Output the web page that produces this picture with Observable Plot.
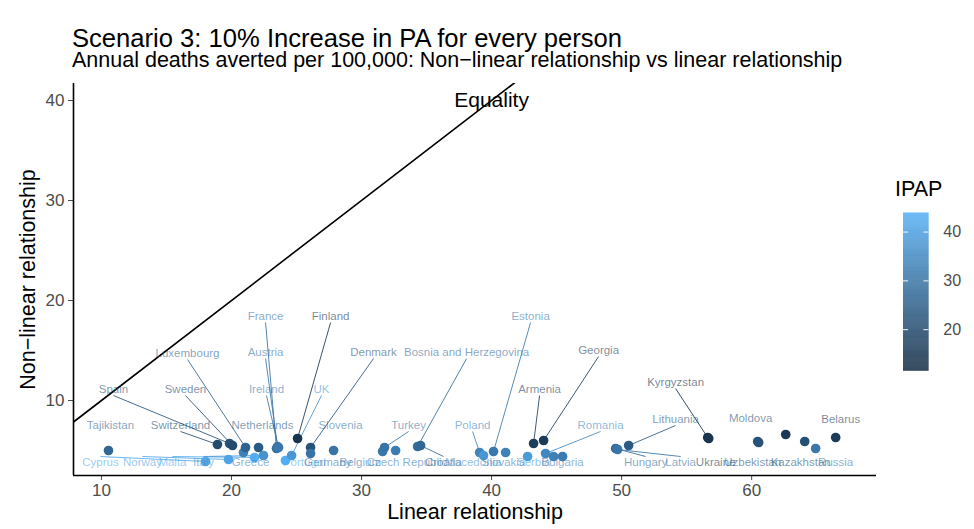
<!DOCTYPE html>
<html>
<head>
<meta charset="utf-8">
<script src="https://cdn.jsdelivr.net/npm/d3@7"></script>
<script src="https://cdn.jsdelivr.net/npm/@observablehq/plot@0.6"></script>
<style>
  html, body { margin: 0; padding: 0; background: white; }
  #wrap { position: relative; width: 974px; height: 529px; overflow: hidden; font-family: "Liberation Sans", Arial, Helvetica, sans-serif; }
  .title { position: absolute; left: 72px; top: 25px; font-size: 25.6px; line-height: 26px; white-space: nowrap; color: #000; z-index: 2; }
  .subtitle { position: absolute; left: 72px; top: 50px; font-size: 21.5px; line-height: 21.5px; white-space: nowrap; color: #000; z-index: 2; }
  .legtitle { position: absolute; left: 895px; top: 179px; font-size: 21.5px; line-height: 21.5px; color: #000; z-index: 2; }
  #main { position: absolute; left: 0; top: 75px; z-index: 0; }
  #legend { position: absolute; left: 903px; top: 205px; z-index: 1; }
</style>
</head>
<body>
<div id="wrap">
  <div id="main"></div>
  <div id="legend"></div>
  <div class="title">Scenario 3: 10% Increase in PA for every person</div>
  <div class="subtitle">Annual deaths averted per 100,000: Non−linear relationship vs linear relationship</div>
  <div class="legtitle">IPAP</div>
</div>
<script>
// ---- Data ----
const countries = ["Tajikistan","Cyprus","Norway","Malta","Italy","Greece","Switzerland","Spain","Sweden","Luxembourg",
  "Netherlands","France","Austria","Ireland","Portugal","UK","Finland","Denmark","Germany","Slovenia",
  "Belgium","Turkey","Czech Republic","Bosnia and Herzegovina","Croatia","Poland","Macedonia","Estonia","Slovakia","Serbia",
  "Armenia","Georgia","Romania","Bulgaria","Albania","Hungary","Latvia","Lithuania","Kyrgyzstan","Ukraine",
  "Moldova","Uzbekistan","Azerbaijan","Kazakhstan","Russia","Belarus"];
const linear = [10.54,18.0,19.77,21.77,22.46,20.92,18.92,19.85,20.08,21.08,
  22.08,23.46,23.54,23.62,24.15,24.62,25.08,26.08,26.08,27.85,
  31.62,31.77,32.62,34.31,34.54,39.08,39.38,40.15,41.08,42.77,
  43.23,44.0,44.15,44.77,45.46,49.54,49.69,50.54,56.62,56.70,
  60.46,60.54,62.62,64.08,64.92,66.46];
const nonlinear = [5.0,3.9,4.1,4.3,4.5,4.8,5.6,5.7,5.5,5.3,
  5.3,5.2,5.4,5.3,4.0,4.5,6.2,5.3,4.7,5.0,
  4.9,5.3,5.0,5.4,5.5,4.8,4.5,4.9,4.8,4.4,
  5.7,6.0,4.7,4.4,4.4,5.2,5.1,5.5,6.3,6.2,
  5.9,5.8,6.6,5.9,5.2,6.3];
const ipap = [27,42,41,43,37,33,20,22,20,26,
  24,29,30,31,43,38,14,22,30,30,
  31,30,32,28,27,34,38,31,33,39,
  17,16,35,33,32,28,30,24,13,14,
  22,22,15,21,31,16];
// label anchor positions in data units (null = no label)
const labelX = [10.69,9.92,13.15,15.46,17.85,21.46,16.08,10.92,16.46,16.62,
  22.38,22.62,22.62,22.69,25.6,26.92,27.62,30.92,27.4,28.38,
  29.9,33.62,33.5,38.08,36.3,38.54,38.6,43.0,40.92,43.23,
  43.69,48.23,48.38,45.46,null,51.85,54.54,54.15,54.15,57.23,
  59.92,60.08,null,63.77,66.46,66.85];
const labelY = [7.5,3.8,3.8,3.8,3.8,3.8,7.5,11.1,11.1,14.7,
  7.5,18.4,14.8,11.1,3.8,11.1,18.4,14.8,3.8,7.5,
  3.8,7.5,3.8,14.8,3.8,7.5,3.8,18.4,3.8,3.8,
  11.1,15.0,7.5,3.8,null,3.8,3.8,8.1,11.8,3.8,
  8.2,3.8,null,3.8,3.8,8.1];
const xTicks = [10,20,30,40,50,60];
const yTicks = [10,20,30,40];
const legendTicks = [20,30,40];
const xDomain = [7.85, 69.6];
const yDomain = [2.5, 41.7];
const ipapDomain = [11.5, 43.9];

// ---- Build table ----
const rows = countries.map((name, i) => ({
  name, x: linear[i], y: nonlinear[i], ipap: ipap[i], lx: labelX[i], ly: labelY[i]
}));
const labelled = rows.filter(d => d.lx != null);

const W = 974, H = 454, mt = 8, mb = 54, ml = 73, mr = 98;
const kx = (W - ml - mr) / (xDomain[1] - xDomain[0]);
const ky = (H - mt - mb) / (yDomain[1] - yDomain[0]);
const linked = labelled.filter(d => Math.hypot((d.lx - d.x) * kx, (d.ly - d.y) * ky) > 26);

const colorOpts = {type: "linear", domain: ipapDomain, range: ["#132B43", "#56B1F7"], interpolate: d3.interpolateLab};
const font = "'Liberation Sans', Arial, Helvetica, sans-serif";

const chart = Plot.plot({
  width: W, height: H,
  marginTop: mt, marginBottom: mb, marginLeft: ml, marginRight: mr,
  x: {domain: xDomain},
  y: {domain: yDomain},
  color: colorOpts,
  style: {fontFamily: font, color: "#4D4D4D", background: "white", overflow: "visible"},
  marks: [
    Plot.axisX(xTicks, {tickSize: 5, tickPadding: 3, fontSize: 17, label: null}),
    Plot.axisY(yTicks, {tickSize: 5, tickPadding: 4, fontSize: 17, label: null}),
    Plot.ruleX([xDomain[0]], {stroke: "black", strokeWidth: 1.6}),
    Plot.ruleY([yDomain[0]], {stroke: "black", strokeWidth: 1.6}),
    Plot.line(xDomain.map(v => [v, v]), {x: d => d[0], y: d => d[1], stroke: "black", strokeWidth: 1.6, clip: true}),
    Plot.link(linked, {
      x1: "x", y1: "y", x2: "lx",
      y2: d => d.ly + (d.ly < d.y ? 0.6 : -0.6),
      stroke: "ipap", strokeWidth: 1, strokeOpacity: 0.85
    }),
    Plot.dot(rows, {x: "x", y: "y", fill: "ipap", r: 4.8}),
    Plot.text(labelled, {x: "lx", y: "ly", text: "name", fill: "ipap", fillOpacity: 0.6, fontSize: 11.5}),
    Plot.text(["Equality"], {x: () => 40, y: () => 40, fill: "black", fontSize: 21}),
    Plot.text(["Linear relationship"], {frameAnchor: "bottom", textAnchor: "middle", dy: 43, fill: "black", fontSize: 21.5}),
    Plot.text(["Non−linear relationship"], {frameAnchor: "left", textAnchor: "middle", rotate: -90, dx: -45, fill: "black", fontSize: 21.5})
  ]
});
document.getElementById("main").appendChild(chart);

// ---- Colour bar legend ----
const steps = d3.range(ipapDomain[0], ipapDomain[1], 0.1);
const legend = Plot.plot({
  width: 75, height: 183,
  marginTop: 8, marginBottom: 8, marginLeft: 0, marginRight: 48,
  x: {domain: [0, 1], axis: null},
  y: {domain: ipapDomain},
  color: colorOpts,
  style: {fontFamily: font, color: "#4D4D4D", background: "transparent", overflow: "visible"},
  marks: [
    Plot.rect(steps, {x1: 0, x2: 1, y1: d => d, y2: d => Math.min(d + 0.13, ipapDomain[1]), fill: d => d}),
    Plot.ruleY(legendTicks, {x1: 0, x2: 0.2, stroke: "white", strokeWidth: 1}),
    Plot.ruleY(legendTicks, {x1: 0.8, x2: 1, stroke: "white", strokeWidth: 1}),
    Plot.axisY(legendTicks, {anchor: "right", tickSize: 0, tickPadding: 15, fontSize: 17, label: null})
  ]
});
document.getElementById("legend").appendChild(legend);
</script>
</body>
</html>
